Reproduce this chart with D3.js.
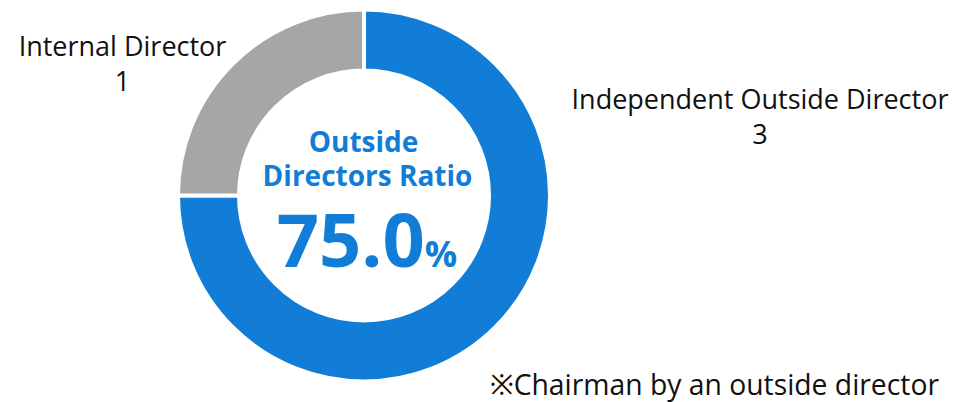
<!DOCTYPE html>
<html>
<head>
<meta charset="utf-8">
<script src="https://cdn.jsdelivr.net/npm/d3@7"></script>
<style>
  html, body { margin: 0; padding: 0; background: #fff; }
  svg { display: block; }
  text { font-family: "Open Sans", "Noto Sans", sans-serif; }
</style>
</head>
<body>
<svg id="chart" width="963" height="402"></svg>
<script>
// ---- data ----
const categories = ["Independent Outside Director", "Internal Director"];
const values = [3, 1];
const ratioTitle = ["Outside", "Directors Ratio"];
const ratioValue = "75.0";
const ratioUnit = "%";
const footnote = "※Chairman by an outside director";

// ---- layout ----
const cx = 364, cy = 195.5, outerR = 186, innerR = 125;
const blue = "#127dd6", gray = "#a6a6a6";
const color = d3.scaleOrdinal().domain(categories).range([blue, gray]);

const svg = d3.select("#chart");
const g = svg.append("g").attr("transform", `translate(${cx},${cy})`);

const pie = d3.pie().sort(null).value(d => d.value).startAngle(0).endAngle(2 * Math.PI);
const arc = d3.arc().innerRadius(innerR).outerRadius(outerR);
const data = categories.map((c, i) => ({ category: c, value: values[i] }));

g.selectAll("path.slice")
  .data(pie(data))
  .join("path")
  .attr("class", "slice")
  .attr("d", arc)
  .attr("fill", d => color(d.data.category))
  .attr("stroke", "#fff")
  .attr("stroke-width", 4)
  .attr("stroke-linejoin", "miter");

// centre text
const ct = svg.append("g").attr("fill", blue).attr("font-weight", 700).attr("text-anchor", "middle");
ct.append("text").attr("x", 363.5).attr("y", 151.5).attr("font-size", 28).text(ratioTitle[0]);
ct.append("text").attr("x", 367.5).attr("y", 186).attr("font-size", 28).text(ratioTitle[1]);
const big = ct.append("text").attr("x", 367).attr("y", 266.5);
big.append("tspan").attr("font-size", 74).text(ratioValue);
big.append("tspan").attr("font-size", 36).text(ratioUnit);

// slice labels
const labelPos = {
  "Independent Outside Director": { x: 760, y: 108.5 },
  "Internal Director": { x: 122.5, y: 55.7 }
};
data.forEach(d => {
  const p = labelPos[d.category];
  const t = svg.append("text").attr("text-anchor", "middle").attr("fill", "#111").attr("font-size", 27);
  t.append("tspan").attr("x", p.x).attr("y", p.y).text(d.category);
  t.append("tspan").attr("x", p.x).attr("y", p.y + 35.5).text(d.value);
});

// footnote
svg.append("text").attr("x", 490).attr("y", 395).attr("font-size", 28.3).attr("fill", "#111").text(footnote);
</script>
</body>
</html>
